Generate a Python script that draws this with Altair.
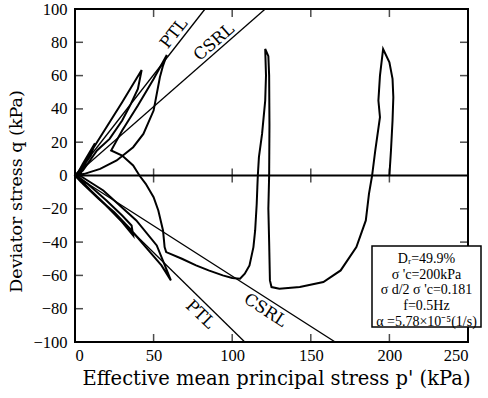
import altair as alt
import pandas as pd

# ---------------- data ----------------
path_p = [200, 201, 202, 202.5, 202, 200, 196, 194, 193, 194, 191, 189, 187, 185, 179, 169, 158, 143, 130, 125, 124,
          123.5, 123, 123.5, 123.7, 123.5, 123, 121, 121.5, 121, 119, 117, 116.3, 116, 115.6, 114.6, 113.5, 111, 108, 105,
          100, 94, 85, 77, 68, 58, 57, 56, 53, 50, 45, 41, 37, 30, 23,
          30, 40, 50, 58.4,
          56, 54, 50, 43.5, 37, 26.5, 16, 6, 1,
          5, 15, 25, 35, 45, 55, 61,
          58, 52, 39, 18, 3,
          10, 20, 30, 42.4,
          40, 35, 30, 22, 14, 5, 1,
          10, 20, 30, 37, 36, 30, 20, 8, 1,
          5, 12.7, 10, 4, 0,
          4, 10, 6, 1]
path_q = [0, 15, 33, 47, 58, 68, 76, 60, 45, 35, 15, 0, -11, -27, -43, -57, -64, -67, -68, -67, -63,
          -40, -20, 0, 30, 60, 71.7, 76, 60, 45, 25, 11, 0, -7, -17, -33, -43, -54, -59, -62,
          -61.5, -60, -57, -54, -50, -46, -43, -33, -21, -13, -5, 0, 6, 12, 15,
          27, 42, 58, 72.4,
          66, 59, 39, 25, 17, 9, 4, 1, 0,
          -5, -14, -22, -32, -43, -54, -63,
          -56, -42, -27, -9, 0,
          14, 29, 44, 63.4,
          52, 42, 33, 22, 15, 3, 0,
          -9, -18, -28, -36, -30, -24, -15, -5, 0,
          7, 19.3, 12, 4, 0,
          -4, -9, -5, 0]

ref_names = ["PTL", "CSRL", "PTL2", "CSRL2"]
ref_p_end = [82.7, 121, 108, 165.5]
ref_q_end = [100, 100, -100, -100]

lbl_text = ["PTL", "CSRL", "PTL", "CSRL"]
lbl_p = [63, 88.5, 79.6, 121]
lbl_q = [85.3, 80, -83.5, -81]
lbl_angle = [308, 319, 44, 33]

x_ticks = [0, 50, 100, 150, 200, 250]
y_ticks = [-100, -80, -60, -40, -20, 0, 20, 40, 60, 80, 100]
inner_x = [50, 100, 150, 200]
inner_y = [-80, -60, -40, -20, 20, 40, 60, 80]

info_lines = ["Dᵣ=49.9%", "σ 'c=200kPa", "σ d/2 σ 'c=0.181", "f=0.5Hz", "α =5.78×10⁻⁵(1/s)"]

# ---------------- tables ----------------
FONT = "Liberation Serif"
TFONT = "DejaVu Serif"
path_df = pd.DataFrame({"p": path_p, "q": path_q, "i": list(range(len(path_p)))})
ref_rows = []
for n, pe, qe in zip(ref_names, ref_p_end, ref_q_end):
    ref_rows.append({"name": n, "p": 0, "q": 0})
    ref_rows.append({"name": n, "p": pe, "q": qe})
ref_df = pd.DataFrame(ref_rows)
lbl_df = pd.DataFrame({"t": lbl_text, "p": lbl_p, "q": lbl_q, "a": lbl_angle})

xs = alt.Scale(domain=[0, 250], nice=False, zero=False)
ys = alt.Scale(domain=[-100, 100], nice=False, zero=False)

AX = alt.Axis(values=x_ticks, title="Effective mean principal stress  p' (kPa)", ticks=False,
              domain=False, grid=False, labelPadding=5, titlePadding=6, titleX=201,
              labelFont=FONT, labelFontSize=16.5, labelColor="black",
              titleFont=TFONT, titleFontSize=19.5, titleFontWeight="normal", titleColor="black")
AY = alt.Axis(values=y_ticks, title="Deviator stress  q  (kPa)", ticks=False,
              domain=False, grid=False, labelPadding=8, titlePadding=7, titleY=182,
              labelFont=FONT, labelFontSize=16.5, labelColor="black",
              titleFont=TFONT, titleFontSize=17.5, titleFontWeight="normal", titleColor="black")


def X():
    return alt.X("p:Q", scale=xs, axis=AX)


def Y():
    return alt.Y("q:Q", scale=ys, axis=AY)


base = alt.Chart(path_df).mark_line(color="black", strokeWidth=2).encode(
    x=X(), y=Y(), order="i:Q")

refs = alt.Chart(ref_df).mark_line(color="black", strokeWidth=1.3).encode(
    x=X(), y=Y(), detail="name:N")

zero = alt.Chart(pd.DataFrame({"p": [0, 250], "q": [0, 0]})).mark_line(color="black", strokeWidth=2).encode(
    x=X(), y=Y())

zt = alt.Chart(pd.DataFrame({"p": inner_x, "q": [0] * len(inner_x)})).mark_tick(
    orient="vertical", size=14, thickness=1.5, color="black").encode(x=X(), y=Y())
bt = alt.Chart(pd.DataFrame({"p": inner_x, "q": [-100] * len(inner_x)})).mark_tick(
    orient="vertical", size=8, thickness=1.5, color="black", yOffset=-4).encode(x=X(), y=Y())
tt = alt.Chart(pd.DataFrame({"p": inner_x, "q": [100] * len(inner_x)})).mark_tick(
    orient="vertical", size=8, thickness=1.5, color="black", yOffset=4).encode(x=X(), y=Y())
lt = alt.Chart(pd.DataFrame({"p": [0] * len(inner_y), "q": inner_y})).mark_tick(
    orient="horizontal", size=8, thickness=1.5, color="black", xOffset=4).encode(x=X(), y=Y())
rt = alt.Chart(pd.DataFrame({"p": [250] * len(inner_y), "q": inner_y})).mark_tick(
    orient="horizontal", size=8, thickness=1.5, color="black", xOffset=-4).encode(x=X(), y=Y())

labels = alt.Chart(lbl_df).mark_text(font=TFONT, fontSize=16.5, color="black").encode(
    x=X(), y=Y(), text="t:N", angle=alt.Angle("a:Q", scale=None))

box = alt.Chart(pd.DataFrame({"k": [0]})).mark_rect(
    fill="white", stroke="black", strokeWidth=1.5).encode(
    x=alt.value(297), x2=alt.value(406), y=alt.value(237), y2=alt.value(318))

info = alt.Chart(pd.DataFrame({"k": [0]})).mark_text(
    font=FONT, fontSize=14, color="black", align="center", baseline="middle", lineHeight=15.7).encode(
    x=alt.value(351.5), y=alt.value(250), text=alt.value(info_lines))

chart = alt.layer(base, refs, zero, zt, bt, tt, lt, rt, labels, box, info).properties(
    width=393, height=333,
    autosize=alt.AutoSizeParams(type="none"),
    padding={"left": 75, "top": 9, "right": 20, "bottom": 56},
).configure_view(stroke="black", strokeWidth=2)

chart.save("out.html", embed_options={"renderer": "svg", "actions": False})
